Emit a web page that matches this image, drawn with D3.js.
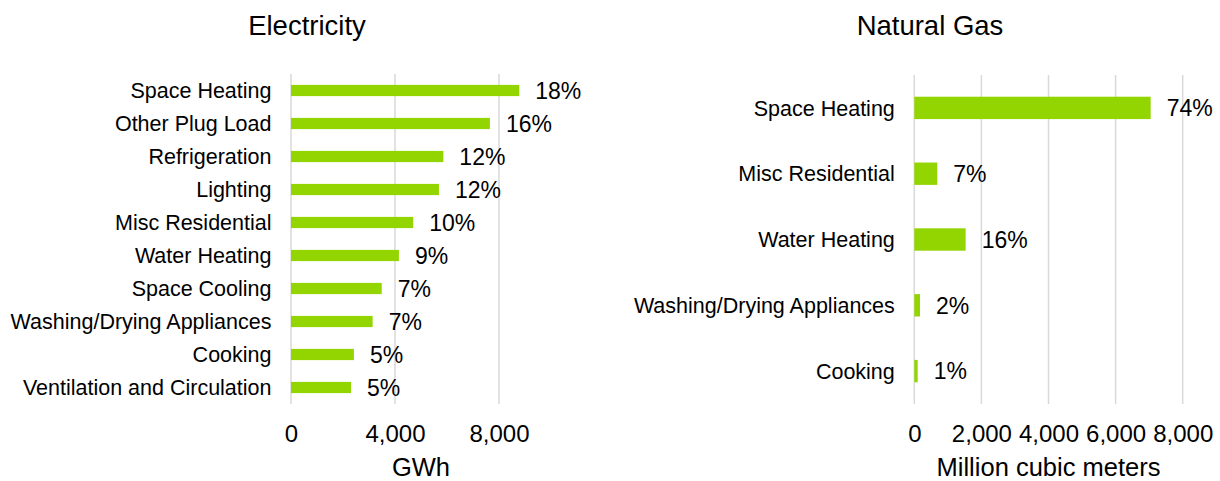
<!DOCTYPE html>
<html>
<head>
<meta charset="utf-8">
<script src="https://cdn.jsdelivr.net/npm/d3@7"></script>
<style>
  body { margin: 0; background: #fff; }
  svg { display: block; font-family: "Liberation Sans", Arial, sans-serif; }
</style>
</head>
<body>
<div class="chart"></div>
<script>
const elecCategories = ['Space Heating', 'Other Plug Load', 'Refrigeration', 'Lighting', 'Misc Residential',
    'Water Heating', 'Space Cooling', 'Washing/Drying Appliances', 'Cooking', 'Ventilation and Circulation'];
const elecValues = [8780, 7650, 5860, 5690, 4700, 4150, 3490, 3140, 2420, 2310];
const elecPct = ['18%', '16%', '12%', '12%', '10%', '9%', '7%', '7%', '5%', '5%'];
const elecTicks = [0, 4000, 8000];

const gasCategories = ['Space Heating', 'Misc Residential', 'Water Heating', 'Washing/Drying Appliances', 'Cooking'];
const gasValues = [7045, 685, 1530, 170, 100];
const gasPct = ['74%', '7%', '16%', '2%', '1%'];
const gasTicks = [0, 2000, 4000, 6000, 8000];

const barColor = '#93d500';
const gridColor = '#d9d9d9';

const svg = d3.select('.chart')
    .append('svg')
        .attr('width', 1220)
        .attr('height', 481);

function drawPanel(opts) {
    const x = d3.scaleLinear().domain(opts.domain).range([opts.left, opts.right]);
    const y = d3.scaleBand()
        .domain(opts.categories)
        .range([opts.top, opts.bottom])
        .paddingInner(0.66)
        .paddingOuter(0.33);

    const g = svg.append('g');

    // gridlines
    g.selectAll('line.grid')
        .data(opts.ticks)
        .enter()
        .append('line')
            .attr('x1', d => x(d))
            .attr('x2', d => x(d))
            .attr('y1', opts.top)
            .attr('y2', opts.bottom)
            .style('stroke', gridColor)
            .style('stroke-width', 1.5);

    // bars
    g.selectAll('rect')
        .data(opts.values)
        .enter()
        .append('rect')
            .attr('x', x(0))
            .attr('y', (d, i) => y(opts.categories[i]))
            .attr('width', d => x(d) - x(0))
            .attr('height', y.bandwidth())
            .style('fill', barColor);

    // percent labels
    g.selectAll('text.pct')
        .data(opts.values)
        .enter()
        .append('text')
            .attr('x', d => x(d) + 16)
            .attr('y', (d, i) => y(opts.categories[i]) + y.bandwidth() / 2)
            .attr('dy', '0.36em')
            .style('font-size', '23px')
            .style('fill', '#000')
            .text((d, i) => opts.pct[i]);

    // category labels
    g.selectAll('text.cat')
        .data(opts.categories)
        .enter()
        .append('text')
            .attr('x', x(0) - 19.5)
            .attr('y', d => y(d) + y.bandwidth() / 2)
            .attr('dy', '0.36em')
            .attr('text-anchor', 'end')
            .style('font-size', '21.5px')
            .style('fill', '#000')
            .text(d => d);

    // x axis tick labels
    const axis = g.append('g')
        .attr('transform', `translate(0,${opts.bottom})`)
        .call(d3.axisBottom(x).tickValues(opts.ticks).tickSize(0).tickPadding(21).tickFormat(d3.format(',')));
    axis.select('.domain').remove();
    axis.selectAll('text')
        .style('font-size', '24px')
        .style('font-family', '"Liberation Sans", Arial, sans-serif')
        .style('fill', '#000');

    // axis title
    g.append('text')
        .attr('x', (opts.left + opts.right) / 2)
        .attr('y', 475.5)
        .attr('text-anchor', 'middle')
        .style('font-size', '25.5px')
        .style('fill', '#000')
        .text(opts.axisTitle);

    // chart title
    g.append('text')
        .attr('x', opts.titleX)
        .attr('y', 35)
        .attr('text-anchor', 'middle')
        .style('font-size', '27.5px')
        .style('fill', '#000')
        .text(opts.title);
}

drawPanel({
    title: 'Electricity', titleX: 307,
    axisTitle: 'GWh',
    categories: elecCategories, values: elecValues, pct: elecPct,
    ticks: elecTicks, domain: [0, 10000],
    left: 291, right: 551, top: 74, bottom: 404
});

drawPanel({
    title: 'Natural Gas', titleX: 930,
    axisTitle: 'Million cubic meters',
    categories: gasCategories, values: gasValues, pct: gasPct,
    ticks: gasTicks, domain: [0, 8000],
    left: 914.3, right: 1182.7, top: 75, bottom: 404
});
</script>
</body>
</html>
